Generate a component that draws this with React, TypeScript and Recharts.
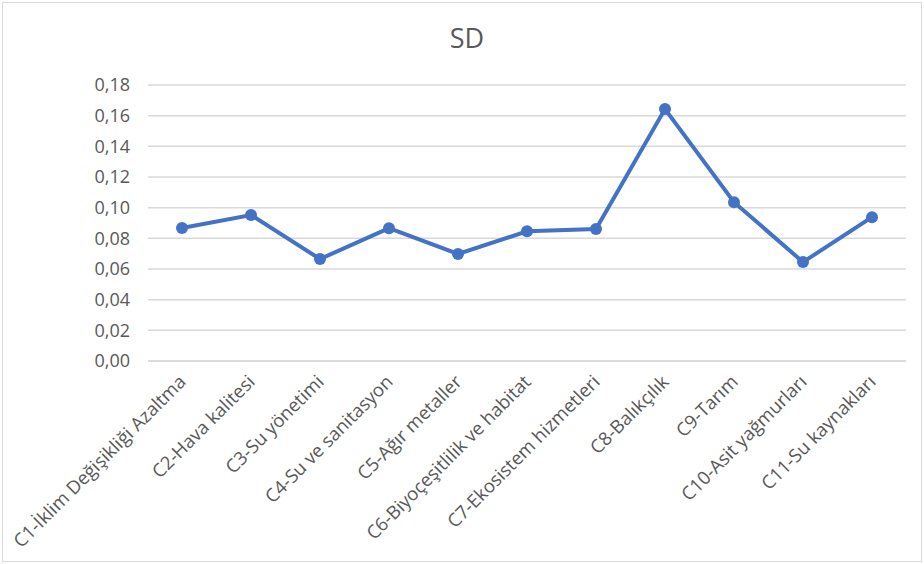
import { CartesianGrid, Line, LineChart, XAxis, YAxis } from "recharts";

const categories = [
  "C1-İklim Değişikliği Azaltma",
  "C2-Hava kalitesi",
  "C3-Su yönetimi",
  "C4-Su ve sanitasyon",
  "C5-Ağır metaller",
  "C6-Biyoçeşitlilik ve habitat",
  "C7-Ekosistem hizmetleri",
  "C8-Balıkçılık",
  "C9-Tarım",
  "C10-Asit yağmurları",
  "C11-Su kaynakları",
];

const sdValues = [0.0867, 0.0952, 0.0665, 0.0866, 0.0698, 0.0846, 0.0861, 0.1643, 0.1036, 0.0645, 0.0938];

const yTicks = [0, 0.02, 0.04, 0.06, 0.08, 0.1, 0.12, 0.14, 0.16, 0.18];

const data = categories.map((name, i) => ({ name, sd: sdValues[i] }));

const font = "'Open Sans', 'Liberation Sans', sans-serif";
const gray = "#595959";

function RotatedTick(props: any) {
  const { x, y, payload } = props;
  return (
    <g transform={`translate(${x + 5},${y + 14})`}>
      <text
        transform="rotate(-45)"
        textAnchor="end"
        fill={gray}
        fontSize={18.5}
        fontFamily={font}
      >
        {payload.value}
      </text>
    </g>
  );
}

export default function App() {
  return (
    <div
      style={{
        position: "absolute",
        left: 0,
        top: 0,
        width: 924,
        height: 564,
        background: "#fff",
      }}
    >
      <div
        style={{
          position: "absolute",
          left: 2,
          top: 2,
          width: 918,
          height: 558,
          border: "1px solid #d9d9d9",
        }}
      />
      <div
        style={{
          position: "absolute",
          left: 0,
          top: 19,
          width: 934,
          textAlign: "center",
          fontFamily: font,
          fontSize: 27,
          color: gray,
        }}
      >
        SD
      </div>
      <LineChart
        width={924}
        height={564}
        data={data}
        margin={{ top: 85, right: 18, bottom: 0, left: 0 }}
        style={{ position: "absolute", left: 0, top: 0 }}
      >
        <CartesianGrid vertical={false} stroke="#d9d9d9" strokeWidth={1.5} />
        <XAxis
          dataKey="name"
          interval={0}
          height={203}
          padding={{ left: 34, right: 34 }}
          axisLine={{ stroke: "#d9d9d9", strokeWidth: 1.5 }}
          tickLine={false}
          tick={<RotatedTick />}
        />
        <YAxis
          domain={[0, 0.18]}
          ticks={yTicks}
          width={148}
          axisLine={false}
          tickLine={false}
          tickMargin={12}
          tickFormatter={(v: number) => v.toFixed(2).replace(".", ",")}
          tick={{ fill: gray, fontSize: 18, fontFamily: font }}
        />
        <Line
          type="linear"
          dataKey="sd"
          stroke="#4472C4"
          strokeWidth={4}
          dot={{ r: 6, fill: "#4472C4", stroke: "#4472C4", strokeWidth: 0 }}
          isAnimationActive={false}
        />
      </LineChart>
    </div>
  );
}
